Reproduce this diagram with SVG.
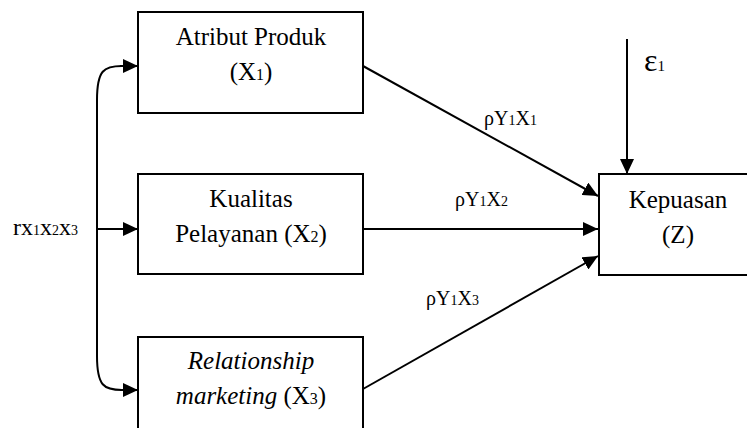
<svg xmlns="http://www.w3.org/2000/svg" width="747" height="428" viewBox="0 0 747 428">
  <style>
    .box { fill: #ffffff; stroke: #000000; stroke-width: 2; }
    .conn { fill: none; stroke: #000000; stroke-width: 2; }
    text { font-family: "Liberation Serif", "Times New Roman", serif; fill: #000000; }
    .lbl { font-size: 25px; text-anchor: middle; }
    .coef { font-size: 20px; }
  </style>
  <defs>
    <marker id="arrow" markerUnits="userSpaceOnUse" markerWidth="16" markerHeight="14" refX="15" refY="7" orient="auto">
      <path d="M0,0 L15,7 L0,14 Z" fill="#000000"/>
    </marker>
  </defs>

  <g id="connectors">
    <path class="conn" d="M 122 66 C 104 66, 97 70, 97 100 L 97 356 C 97 386, 104 390, 122 390" />
    <path class="conn" d="M 120 66 L 138 66" marker-end="url(#arrow)"/>
    <path class="conn" d="M 120 390 L 138 390" marker-end="url(#arrow)"/>
    <path class="conn" d="M 97 229 L 138 229" marker-end="url(#arrow)"/>
    <path class="conn" d="M 363 66 L 598 196" marker-end="url(#arrow)"/>
    <path class="conn" d="M 363 229 L 598 229" marker-end="url(#arrow)"/>
    <path class="conn" d="M 363 389 L 598 256" marker-end="url(#arrow)"/>
    <path class="conn" d="M 627 39 L 627 174" marker-end="url(#arrow)"/>
  </g>

  <g id="x1">
    <rect class="box" x="138" y="12" width="225" height="101"/>
    <text class="lbl" x="251" y="45">Atribut Produk</text>
    <text class="lbl" x="251" y="80">(X<tspan font-size="16">1</tspan>)</text>
  </g>

  <g id="x2">
    <rect class="box" x="138" y="174" width="225" height="100"/>
    <text class="lbl" x="251" y="207">Kualitas</text>
    <text class="lbl" x="251" y="242">Pelayanan (X<tspan font-size="16">2</tspan>)</text>
  </g>

  <g id="x3">
    <rect class="box" x="138" y="337" width="225" height="110"/>
    <text class="lbl" x="251" y="369" font-style="italic">Relationship</text>
    <text class="lbl" x="251" y="404"><tspan font-style="italic">marketing</tspan> (X<tspan font-size="16">3</tspan>)</text>
  </g>

  <g id="z">
    <rect class="box" x="599" y="174" width="160" height="101"/>
    <text class="lbl" x="678" y="208">Kepuasan</text>
    <text class="lbl" x="678" y="243">(Z)</text>
  </g>

  <g id="labels">
    <text x="13" y="235" font-size="24">rx<tspan font-size="14">1</tspan>x<tspan font-size="14">2</tspan>x<tspan font-size="14">3</tspan></text>
    <text class="coef" x="484" y="125">ρY<tspan font-size="14">1</tspan>X<tspan font-size="14">1</tspan></text>
    <text class="coef" x="455" y="206">ρY<tspan font-size="14">1</tspan>X<tspan font-size="14">2</tspan></text>
    <text class="coef" x="426" y="305">ρY<tspan font-size="14">1</tspan>X<tspan font-size="14">3</tspan></text>
    <text x="644" y="71" font-size="32">ε<tspan font-size="15">1</tspan></text>
  </g>
</svg>
